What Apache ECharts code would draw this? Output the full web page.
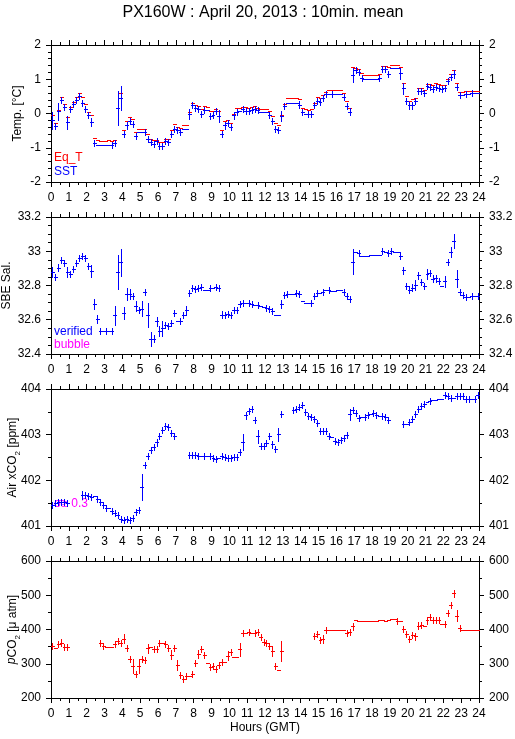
<!DOCTYPE html>
<html><head><meta charset="utf-8">
<script src="https://cdn.jsdelivr.net/npm/echarts@6/dist/echarts.min.js"></script>
<style>html,body{margin:0;padding:0;background:#fff}#c{width:515px;height:739px}</style>
</head><body><div id="c"></div>
<script>
// 10-minute bins: index i covers hours i/6 .. (i+1)/6
const titleText = 'PX160W : April 20, 2013 : 10min. mean';
const hourTicks = [0, 24, 1];
const tempRange = [-2, 2, 1];
const salRange = [32.4, 33.2, 0.2];
const co2Range = [401, 404, 1];
const pco2Range = [200, 600, 100];

const sst = [-0.2,-0.36,0.07,0.39,0.2,-0.26,0.13,0.27,0.39,0.52,0.32,0.13,-0.05,-0.24,-0.85,-0.91,-0.91,-0.91,-0.91,-0.91,-0.91,-0.85,0.17,0.45,
-0.6,-0.34,-0.22,-0.3,-0.66,-0.55,-0.55,-0.55,-0.75,-0.83,-0.88,-0.81,-0.96,-0.96,-0.81,-0.83,-0.59,-0.44,-0.49,-0.54,-0.46,-0.46,-0.02,0.26,
0.17,0.12,0,0.1,0.1,-0.08,-0.03,0.07,-0.07,-0.59,-0.34,-0.27,-0.39,-0.05,0.05,0.07,0.13,0.07,0.07,0.1,0.13,0.1,0.03,0.03,
0.03,-0.03,-0.22,-0.44,-0.47,-0.07,0.21,0.32,0.32,0.32,0.32,0.26,0.03,0,0,0,0.24,0.37,0.34,0.46,0.56,0.57,0.57,0.57,
0.57,0.57,0.49,0.21,0.05,1.12,1.27,1.2,1.03,1.0,1.0,1.0,1.0,1.0,1.05,1.29,1.29,1.14,1.32,1.32,1.32,1.17,0.73,0.37,
0.24,0.24,0.36,0.65,0.66,0.6,0.8,0.76,0.71,0.78,0.75,0.71,0.73,0.95,1.07,1.15,0.78,0.54,0.54,0.57,0.57,0.59,0.59,0.59];
const sstErr = [0.25,0.04,0.25,0.04,0.05,0.18,0.1,0.04,0.06,0.04,0.04,0.05,0.04,0.12,0.05,0,0,0,0,0,0.03,0.05,0.5,0.35,
0.07,0.1,0.05,0.07,0.05,0,0,0.03,0.04,0.04,0.04,0.04,0.06,0.06,0.05,0.06,0.05,0.04,0.03,0.03,0,0,0.15,0.04,
0.04,0.03,0.04,0.03,0,0.04,0.03,0.03,0.17,0.04,0.1,0.05,0.04,0.1,0.03,0,0.03,0.03,0.03,0.03,0.03,0.03,0,0,
0,0.03,0.05,0.03,0.04,0.15,0.04,0,0,0,0,0.1,0.03,0,0.03,0.03,0.05,0.04,0.05,0.07,0.03,0,0.03,0,
0,0,0.04,0.08,0.1,0.2,0.05,0.03,0.03,0,0,0,0,0,0.03,0.04,0.04,0.04,0,0,0,0.15,0.15,0.04,
0.1,0.1,0.07,0.07,0.04,0.03,0.04,0.04,0.03,0.04,0.03,0.03,0.03,0.04,0.05,0.12,0.07,0.03,0,0.03,0,0.03,0,0];
const eqT = [-0.05,-0.29,0.1,0.49,0.29,-0.1,0.2,0.34,0.47,0.6,0.47,0.27,0.05,-0.05,-0.71,-0.78,-0.79,-0.8,-0.79,-0.78,-0.8,-0.76,0.17,0.61,
-0.47,-0.22,-0.11,-0.17,-0.54,-0.44,-0.44,-0.44,-0.61,-0.73,-0.76,-0.76,-0.83,-0.83,-0.73,-0.73,-0.47,-0.32,-0.39,-0.41,-0.34,-0.34,0.03,0.31,
0.24,0.21,0.13,0.21,0.2,0.07,0.07,0.12,0.08,-0.47,-0.22,-0.18,-0.29,0,0.15,0.17,0.2,0.2,0.17,0.2,0.21,0.17,0.13,0.13,
0.13,0.07,-0.08,-0.29,-0.34,-0.03,0.29,0.44,0.44,0.44,0.44,0.41,0.15,0.12,0.11,0.12,0.31,0.49,0.46,0.54,0.63,0.68,0.68,0.68,
0.68,0.68,0.61,0.36,0.17,1.35,1.32,1.3,1.17,1.12,1.12,1.12,1.12,1.12,1.14,1.39,1.4,1.37,1.43,1.43,1.43,1.35,0.88,0.52,
0.37,0.41,0.44,0.75,0.75,0.7,0.87,0.85,0.83,0.88,0.85,0.83,0.83,1.02,1.15,1.27,0.9,0.63,0.63,0.66,0.66,0.67,0.67,0.67];

const sal = [32.88,32.847,32.905,32.95,32.93,32.88,32.87,32.895,32.93,32.96,32.97,32.96,32.915,32.885,32.69,32.605,32.535,32.535,32.537,32.535,32.533,32.625,32.88,32.935,
32.64,32.75,32.752,32.737,32.68,32.655,32.665,32.762,32.63,32.487,32.49,32.59,32.535,32.55,32.57,32.565,32.583,32.64,32.593,32.593,32.63,32.655,32.757,32.786,
32.78,32.785,32.79,32.772,32.772,32.785,32.785,32.79,32.785,32.63,32.63,32.635,32.626,32.655,32.655,32.69,32.695,32.695,32.695,32.69,32.684,32.684,32.68,32.676,
32.67,32.664,32.65,32.63,32.63,32.693,32.743,32.753,32.75,32.75,32.757,32.753,32.708,32.7,32.7,32.697,32.74,32.757,32.757,32.762,32.772,32.774,32.77,32.77,
32.772,32.772,32.762,32.74,32.72,32.94,32.998,32.992,32.974,32.972,32.974,32.976,32.978,32.978,32.976,33.0,32.996,32.99,33.0,32.998,32.994,32.975,32.888,32.795,
32.776,32.786,32.805,32.86,32.82,32.795,32.867,32.872,32.84,32.843,32.824,32.8,32.824,32.94,32.994,33.06,32.84,32.762,32.747,32.733,32.733,32.737,32.737,32.74];
const salErr = [0.03,0.01,0.02,0.01,0.01,0.03,0.01,0.01,0.015,0.01,0.012,0.01,0.01,0.035,0.03,0.025,0.01,0,0.005,0,0.008,0.055,0.1,0.08,
0.035,0.035,0.03,0.012,0.03,0.01,0.045,0.01,0.07,0.04,0.02,0.025,0.03,0.045,0.015,0.015,0.015,0.008,0,0.005,0.01,0.025,0.012,0.005,
0.01,0.008,0.005,0,0,0.008,0,0.005,0.015,0.02,0.008,0.008,0.008,0.008,0.008,0.005,0.005,0,0.005,0.005,0,0.005,0,0,
0.005,0.005,0.01,0,0,0.025,0.008,0.005,0,0,0.008,0.005,0,0,0,0.005,0.012,0.005,0,0.008,0,0.005,0,0,
0,0,0.005,0.012,0.008,0.075,0,0.005,0,0,0,0,0,0,0,0.008,0,0.005,0.008,0,0,0.02,0.02,0.012,
0.02,0.02,0.03,0.02,0.01,0.005,0.03,0.005,0.02,0.02,0.008,0,0.03,0.01,0.03,0.04,0.05,0.01,0.005,0.005,0,0.005,0,0.005];

const co2 = [401.47,401.51,401.53,401.53,401.53,401.51,null,null,null,null,401.68,401.68,401.65,401.64,401.65,401.6,401.52,401.45,401.4,401.4,401.33,401.29,401.24,401.15,
401.14,401.16,401.14,401.18,401.31,401.36,401.85,402.33,402.53,402.67,402.74,402.83,402.96,403.1,403.19,403.16,403.03,402.96,null,null,null,null,402.55,402.55,
402.55,402.53,402.54,402.54,402.53,402.53,402.5,402.47,402.5,402.53,402.51,402.5,402.49,402.51,402.52,402.63,402.84,403.42,403.52,403.56,403.33,402.96,402.75,402.76,
402.81,402.96,402.79,402.69,403.01,403.45,null,null,null,403.53,403.57,403.6,403.64,403.49,403.41,403.39,403.35,403.25,403.08,403.08,403.08,402.98,402.95,402.86,
402.85,402.89,402.93,403.0,403.45,403.54,403.47,403.37,403.38,403.38,403.42,403.46,403.47,403.44,403.41,403.41,403.39,403.33,null,null,null,null,403.24,403.24,
403.27,403.34,403.45,403.56,403.62,403.67,403.71,403.74,403.76,403.77,403.78,403.78,403.86,403.84,403.81,403.81,403.84,403.84,403.84,403.78,403.78,403.78,403.78,403.86];
const co2Err = [0.03,0.03,0.02,0.02,0.02,0.02,0,0,0,0,0.09,0.02,0.02,0.02,0,0.03,0.02,0.02,0.02,0,0.02,0.02,0.02,0.02,
0.02,0.02,0.02,0.06,0.04,0.05,0.28,0.03,0.07,0.03,0.04,0.07,0.04,0.03,0.02,0.02,0.03,0.02,0,0,0,0,0.03,0.02,
0.02,0.02,0,0.02,0,0.03,0.06,0.02,0,0.03,0.02,0.02,0.02,0.02,0.03,0.03,0.18,0.08,0.04,0.05,0.05,0.14,0.02,0.02,
0.05,0.03,0.08,0.04,0.14,0.02,0,0,0,0.02,0.02,0.03,0.02,0.04,0.03,0.02,0.02,0.04,0.04,0.04,0.04,0.02,0,0.03,
0.03,0.02,0.03,0.04,0.12,0.03,0.05,0.02,0,0.03,0.02,0,0.02,0.03,0,0.02,0.02,0.02,0,0,0,0,0.02,0,
0.02,0.03,0.04,0.05,0.03,0.03,0,0.02,0,0,0,0,0.02,0.02,0.02,0,0.03,0.03,0.03,0.02,0.02,0,0.02,0.03];

const pco2 = [353,346.5,358,361,348,350,null,null,null,null,null,null,null,null,null,null,361,353,349,349,349,358,366,361,
373,346.5,315,293,269,293,313,310,345,349,342,342,361,360,357,346.5,327,346.5,296,266.5,256,264.6,263,269,
301,329,344,327,301,291,294,284,296,306,306,324,334,320,320,342,390,390,393,390,390,392,378,364,
361,351,337,293.5,281,337,null,null,null,null,null,null,null,null,null,null,382,387,370.6,372.5,397.6,397.6,397.6,397.6,
397.6,397.6,397.6,390,393,409,426.5,426,426,426,426,426,424,425,428,428,426,428,430,430,426,424,402,387,
372.5,385,380,411,414,409,426.5,437,428,427,427,417,417,447.7,471.8,505.5,440,405,400,400,400,400,400,400];
const pco2Err = [4,0,5,10,4,4,0,0,0,0,0,0,0,0,0,0,4,3,0,0,0,3,5,4,
13,8,4,20,4,20,4,4,13,0,6,6,4,0,5,5,14,4,15,5,3,3,0,4,
8,12,6,7,0,3,3,8,7,5,0,12,4,0,0,18,5,0,3,0,3,3,4,3,
4,2,14,4,0,28,0,0,0,0,0,0,0,0,0,0,5,3,5,12,3,0,0,0,
0,0,0,3,4,10,0,0,0,0,0,0,0,0,0,0,0,0,0,0,3,0,5,3,
8,9,10,10,4,0,10,3,4,7,4,0,3,7,8,11,16,3,0,0,0,0,0,0];

const FONT = '"Liberation Sans", Arial, Helvetica, sans-serif';
const BLUE = '#0000ff', RED = '#ff0000', MAG = '#ff00ff';
const tops = [45, 217, 389, 561];
const H = 137;

function build(vals, errs) {
  const out = [];
  vals.forEach((v, i) => { if (v !== null) out.push([i, v, errs ? errs[i] : 0]); });
  return out;
}
function mk(color, bars) {
  return function (params, api) {
    const s = api.value(0), v = api.value(1), e = api.value(2);
    const a = api.coord([s / 6, v]), b = api.coord([(s + 1) / 6, v]);
    const y = Math.round(a[1]) + 0.5;
    const ch = [{type: 'line', shape: {x1: Math.round(a[0]), y1: y, x2: Math.round(b[0]) + 1, y2: y},
      style: {stroke: color, lineWidth: 1}}];
    if (bars && e > 0) {
      const c = api.coord([(s + 0.5) / 6, v + e]), d = api.coord([(s + 0.5) / 6, v - e]);
      const xm = Math.round(c[0]) + 0.5;
      const t = Math.min(c[1], a[1] - 3), bt = Math.max(d[1], a[1] + 3);
      ch.push({type: 'line', shape: {x1: xm, y1: Math.round(t), x2: xm, y2: Math.round(bt) + 1},
        style: {stroke: color, lineWidth: 1}});
    }
    return {type: 'group', children: ch};
  };
}

const lab = {color: '#000', fontFamily: FONT, fontSize: 12};
const grids = tops.map(t => ({left: 51, width: 428, top: t, height: H, containLabel: false, outerBoundsMode: 'none'}));
const xAxes = [], yAxes = [];
tops.forEach((t, g) => {
  const base = {type: 'value', gridIndex: g, min: hourTicks[0], max: hourTicks[1], interval: hourTicks[2],
    axisLine: {show: true, onZero: false, lineStyle: {color: '#000', width: 1}},
    axisTick: {show: true, inside: false, length: 5, lineStyle: {color: '#000'}},
    minorTick: {show: true, splitNumber: 2, length: 3, lineStyle: {color: '#000'}},
    splitLine: {show: false}};
  xAxes.push(Object.assign({}, base, {position: 'bottom',
    axisLabel: Object.assign({margin: 10}, lab),
    name: g === 3 ? 'Hours (GMT)' : '', nameLocation: 'middle', nameGap: 24, nameMoveOverlap: false, nameTextStyle: lab}));
  xAxes.push(Object.assign({}, base, {position: 'top', axisLabel: {show: false}}));
});
const yDefs = [
  {r: tempRange, minor: 5, name: 'Temp. [°C]', gap: 26},
  {r: salRange, minor: 4, name: 'SBE Sal.', gap: 37},
  {r: co2Range, minor: 2, name: 'Air xCO{sub|2} [ppm]', gap: 31},
  {r: pco2Range, minor: 2, name: '{i|p}CO{sub|2} [μ atm]', gap: 31}
];
const richName = {
  sub: {fontSize: 8, fontFamily: FONT, color: '#000', verticalAlign: 'top', lineHeight: 8, padding: [8, 0, 0, 0]},
  i: {fontSize: 12, fontFamily: FONT, fontStyle: 'italic', color: '#000', verticalAlign: 'top', lineHeight: 14}
};
yDefs.forEach((d, g) => {
  const base = {type: 'value', gridIndex: g, min: d.r[0], max: d.r[1], interval: d.r[2],
    axisLine: {show: true, onZero: false, lineStyle: {color: '#000', width: 1}},
    axisTick: {show: true, inside: false, length: 5, lineStyle: {color: '#000'}},
    minorTick: {show: true, splitNumber: d.minor, length: 3, lineStyle: {color: '#000'}},
    splitLine: {show: false},
    axisLabel: Object.assign({margin: 10, formatter: v => String(+v.toFixed(2))}, lab)};
  yAxes.push(Object.assign({}, base, {position: 'left', name: d.name, nameLocation: 'middle', nameGap: d.gap,
    nameMoveOverlap: false,
    nameTextStyle: Object.assign({lineHeight: 14, rich: richName}, lab)}));
  yAxes.push(Object.assign({}, base, {position: 'right'}));
});

function series(g, data, color, bars) {
  return {type: 'custom', xAxisIndex: g * 2, yAxisIndex: g * 2, data: data,
    encode: {x: 0, y: 1}, renderItem: mk(color, bars), clip: false, silent: true};
}

const txt = (x, y, s, color, size, align) => ({type: 'text', x: x, y: y,
  style: {text: s, fill: color, font: (size || 12) + 'px ' + FONT, textAlign: align || 'left', textVerticalAlign: 'middle'}});

const chart = echarts.init(document.getElementById('c'), null, {renderer: 'canvas'});
chart.setOption({
  animation: false,
  backgroundColor: '#fff',
  grid: grids, xAxis: xAxes, yAxis: yAxes,
  series: [
    series(0, build(eqT, null), RED, false),
    series(0, build(sst, sstErr), BLUE, true),
    series(1, build(sal, salErr), BLUE, true),
    series(2, build(co2, co2Err), BLUE, true),
    series(3, build(pco2, pco2Err), RED, true)
  ],
  graphic: [
    txt(263, 13, titleText, '#000', 16, 'center'),
    txt(54, 158, 'Eq_T', RED),
    txt(54, 172, 'SST', BLUE),
    txt(54, 332, 'verified', BLUE),
    txt(54, 345, 'bubble', MAG),
    txt(54, 504, 'σ≥ 0.3', MAG)
  ]
});
</script></body></html>
